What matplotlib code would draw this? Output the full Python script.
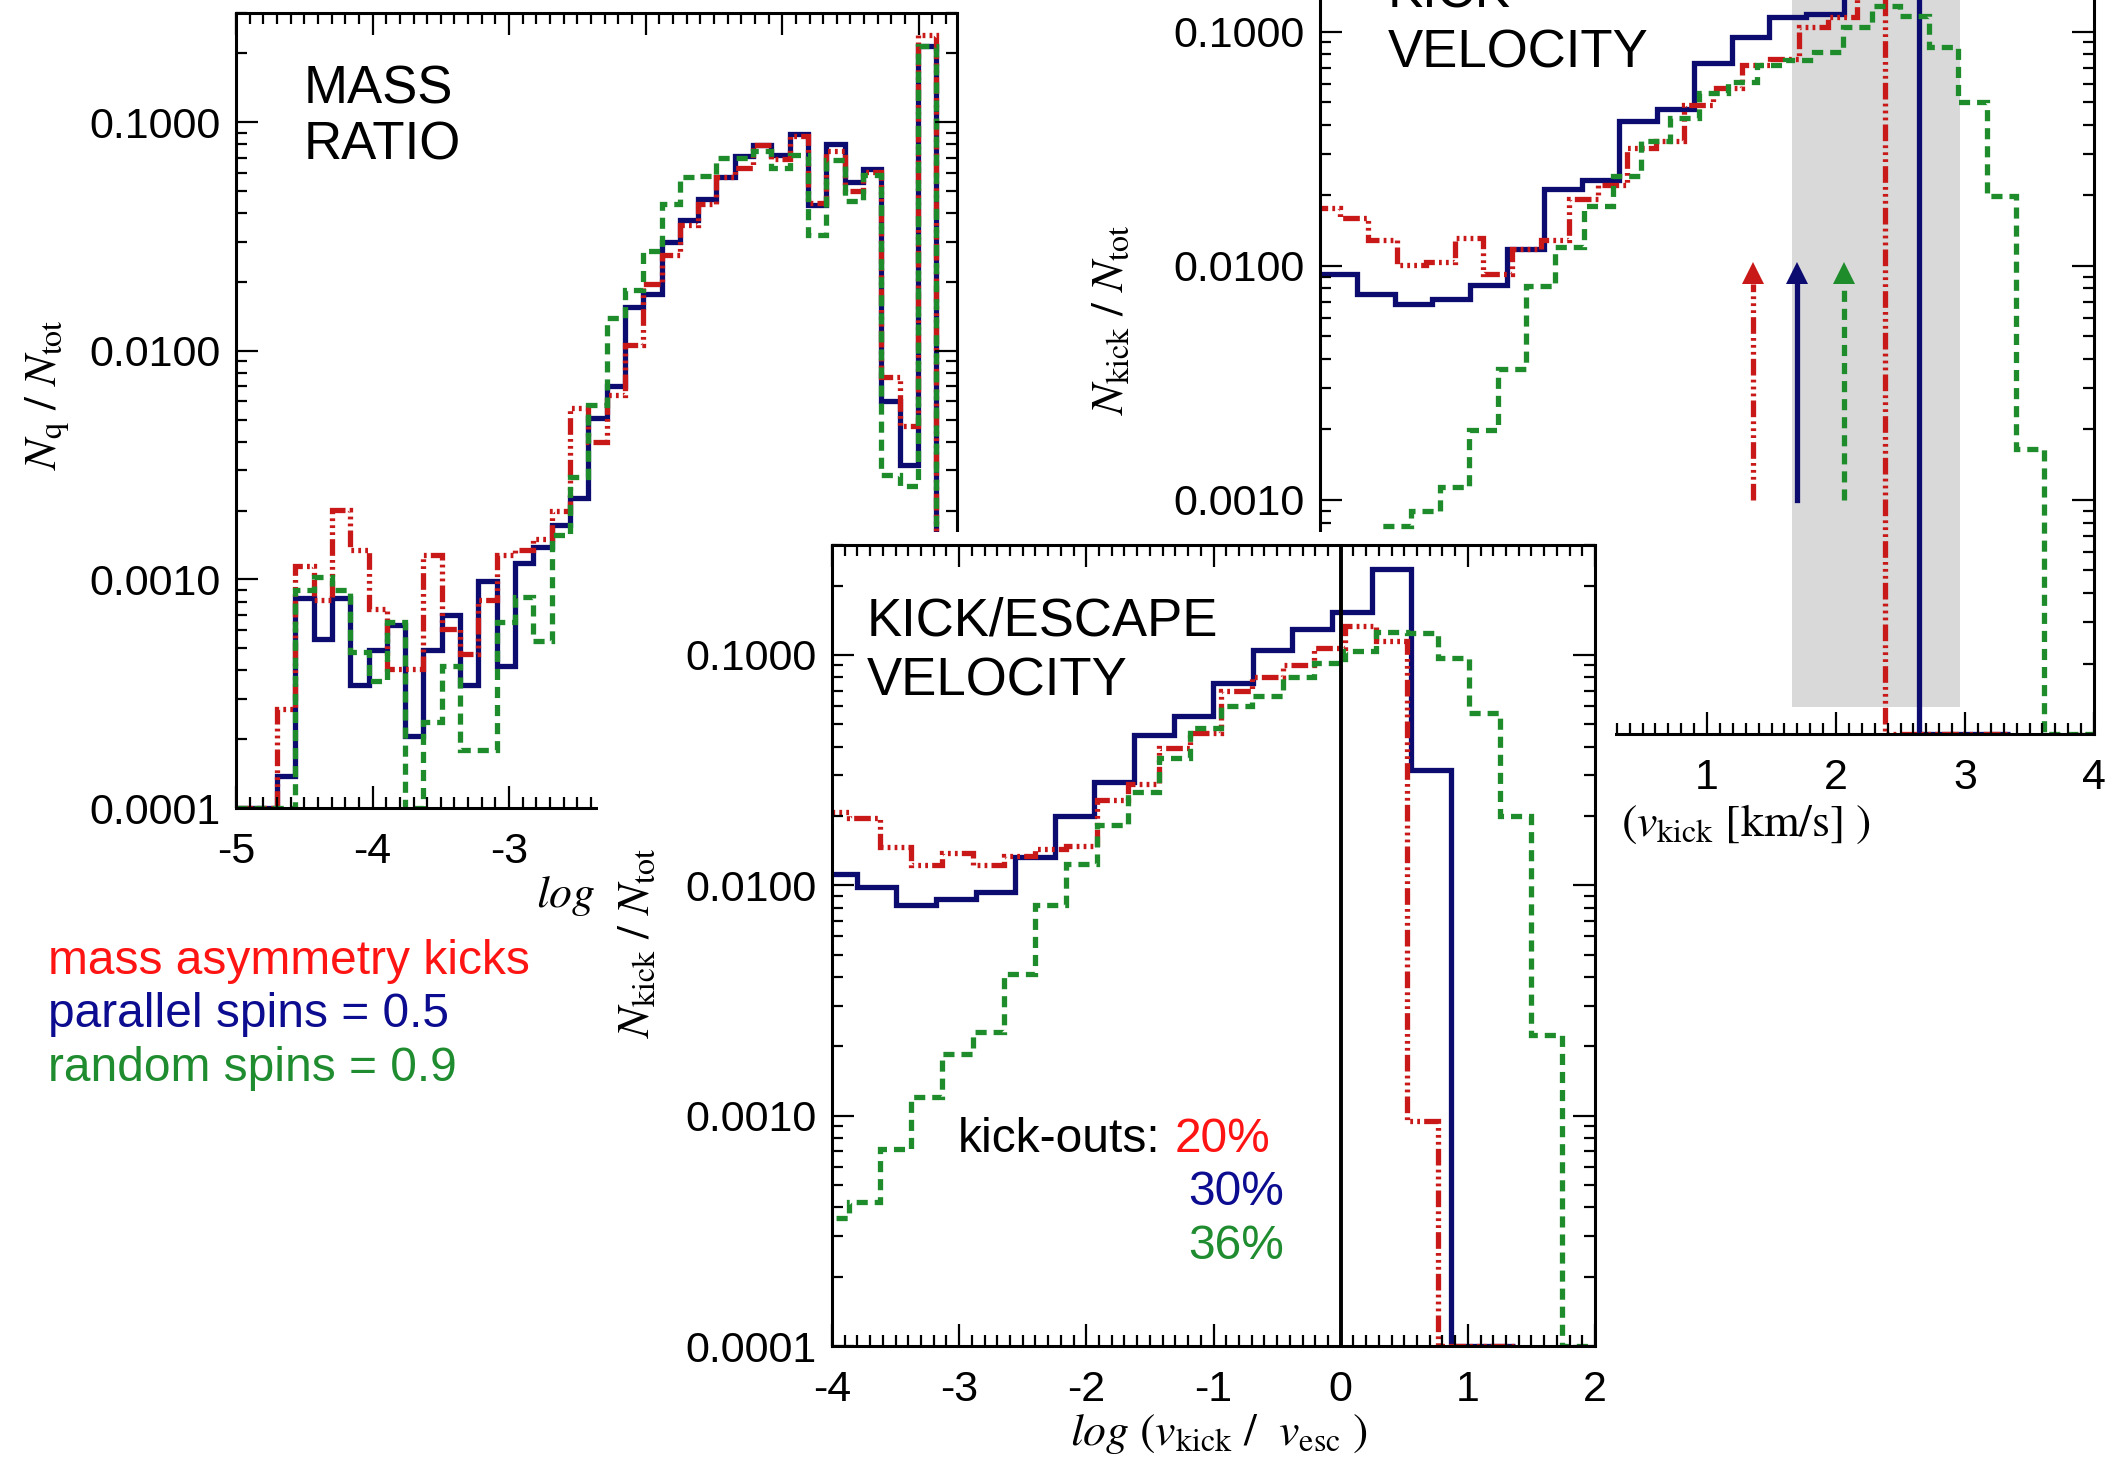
import numpy as np
import matplotlib
matplotlib.use("Agg")
import matplotlib.pyplot as plt
from matplotlib.patches import Rectangle
from matplotlib.ticker import MultipleLocator, LogLocator, FuncFormatter, NullFormatter

plt.rcParams['font.family'] = ['Liberation Sans', 'DejaVu Sans']
plt.rcParams['mathtext.fontset'] = 'stix'
plt.rcParams['axes.unicode_minus'] = False
plt.rcParams['lines.scale_dashes'] = False

W, H = 2112, 1461
FLOOR = 1e-4

# --- mass ratio panel (log q), shared bins
q_start, q_width = -4.70, 0.1341
q_red = [2.7e-4, 1.14e-3, 8.1e-4, 2.02e-3, 1.35e-3, 7.4e-4, 4.05e-4, 4.05e-4, 1.28e-3,
         6.05e-4, 4.7e-4, 8.1e-4, 1.28e-3, 1.35e-3, 1.5e-3, 2.0e-3, 5.6e-3, 4.0e-3,
         6.4e-3, 0.0106, 0.0196, 0.0263, 0.0356, 0.0437, 0.0573, 0.063, 0.0796, 0.069,
         0.0866, 0.0443, 0.0744, 0.050, 0.0604, 7.7e-3, 4.67e-3, 0.24]
q_blue = [1.38e-4, 8.3e-4, 5.5e-4, 8.3e-4, 3.46e-4, 4.9e-4, 6.3e-4, 2.07e-4, 4.9e-4,
          7.0e-4, 3.46e-4, 9.8e-4, 4.16e-4, 1.18e-3, 1.39e-3, 1.73e-3, 2.27e-3, 5.1e-3,
          7.0e-3, 0.0156, 0.0177, 0.030, 0.0374, 0.0462, 0.0578, 0.0708, 0.079, 0.072,
          0.0887, 0.0433, 0.080, 0.0547, 0.0625, 6.0e-3, 3.17e-3, 0.215]
q_green = [1e-4, 9.0e-4, 1.02e-3, 9.0e-4, 4.8e-4, 3.6e-4, 6.5e-4, 1e-4, 2.37e-4,
           4.16e-4, 1.79e-4, 1.79e-4, 6.5e-4, 8.4e-4, 5.4e-4, 1.56e-3, 2.8e-3, 5.8e-3,
           0.0139, 0.0185, 0.0272, 0.0437, 0.0573, 0.058, 0.0697, 0.070, 0.0744, 0.063,
           0.072, 0.0321, 0.0684, 0.045, 0.0585, 2.87e-3, 2.55e-3, 0.215]

# --- kick velocity panel (log v_kick [km/s])
vk_red_start, vk_red_width = -2.07, 0.2226
vk_red = [0.0176, 0.016, 0.0129, 0.0101, 0.0104, 0.0131, 0.0092, 0.0118, 0.0129, 0.0193,
          0.0221, 0.0318, 0.034, 0.0487, 0.0577, 0.0719, 0.0764, 0.105, 0.115, 0.145]
vk_blue_start, vk_blue_width = -2.0, 0.29
vk_blue = [0.00925, 0.00755, 0.00684, 0.00721, 0.00826, 0.0118, 0.0213, 0.0232, 0.0416,
           0.0467, 0.0733, 0.0946, 0.116, 0.119, 0.16, 0.17]
vk_green_start, vk_green_width = -1.516, 0.2231
vk_green = [7.7e-4, 9.0e-4, 1.14e-3, 1.98e-3, 3.64e-3, 8.17e-3, 0.0120, 0.0180, 0.0243,
            0.0342, 0.0426, 0.0545, 0.0611, 0.0723, 0.0755, 0.0816, 0.1045, 0.129, 0.117,
            0.0857, 0.0503, 0.0199, 1.65e-3]
arrow_x = [1.36, 1.70, 2.06]
band_x = [1.66, 2.96]

# --- kick / escape velocity panel
ve_start, ve_width = -4.111, 0.2439   # red and green bins
ve_red = [0.0208, 0.0195, 0.0147, 0.0122, 0.0138, 0.0122, 0.0134, 0.0144, 0.0148, 0.0234,
          0.0275, 0.0393, 0.0459, 0.070, 0.080, 0.090, 0.107, 0.134, 0.115, 9.5e-4]
ve_green = [3.6e-4, 4.2e-4, 7.2e-4, 1.2e-3, 1.85e-3, 2.3e-3, 4.1e-3, 8.2e-3, 0.0124, 0.0182,
            0.0255, 0.0356, 0.048, 0.060, 0.066, 0.080, 0.092, 0.104, 0.126, 0.125, 0.097,
            0.0557, 0.0199, 2.25e-3]
ve_blue_start, ve_blue_width = -4.1175, 0.3115
ve_blue = [0.01116, 0.00984, 0.00818, 0.00875, 0.00935, 0.0132, 0.0200, 0.0281, 0.0449,
           0.0543, 0.0753, 0.105, 0.129, 0.1535, 0.235, 0.0315]

kickouts = ['20%', '30%', '36%']
legend_labels = ['mass asymmetry kicks', 'parallel spins = 0.5', 'random spins = 0.9']

RED, BLUE, GREEN = '#c81818', '#0b0b70', '#1f8c2c'
TXT = ['#ff1414', '#0c0c90', '#1f8c30']
LS = {'red': (0, (12, 3, 2, 3, 2, 3, 2, 3)), 'blue': '-', 'green': (0, (8, 5))}
LW = 3.8

fig = plt.figure(figsize=(W / 100, H / 100), dpi=100)


def fx(x):
    return x / W


def fy(y):
    return 1 - y / H


def add_panel(l, t, r, b, z):
    ax = fig.add_axes([l / W, 1 - b / H, (r - l) / W, (b - t) / H])
    ax.set_zorder(z)
    return ax


def style(ax, xlim):
    ax.set_xlim(*xlim)
    ax.set_yscale('log')
    ax.set_ylim(1e-4, 0.3)
    ax.xaxis.set_major_locator(MultipleLocator(1))
    ax.xaxis.set_minor_locator(MultipleLocator(0.1))
    ax.yaxis.set_major_locator(LogLocator(base=10, numticks=10))
    ax.yaxis.set_minor_locator(LogLocator(base=10, subs=np.arange(2, 10), numticks=20))
    ax.yaxis.set_major_formatter(FuncFormatter(lambda v, p: f'{v:.4f}'))
    ax.yaxis.set_minor_formatter(NullFormatter())
    ax.xaxis.set_major_formatter(FuncFormatter(lambda v, p: str(int(round(v)))))
    ax.tick_params(which='both', direction='in', top=True, right=True, width=1.6, labelsize=31)
    ax.tick_params(which='major', length=16)
    ax.tick_params(which='minor', length=8)
    ax.tick_params(axis='x', pad=17)
    ax.tick_params(axis='y', pad=11)
    for s in ax.spines.values():
        s.set_linewidth(2.2)


def hist(ax, start, width, vals, key, color, right, left=None):
    edges = start + width * np.arange(len(vals) + 1)
    v = list(vals) + [FLOOR]
    e = list(edges) + [right]
    if left is not None:
        v = [FLOOR] + v
        e = [left] + e
    ax.stairs(v, e, baseline=None, color=color, lw=LW, linestyle=LS[key])


# ---------- MASS RATIO ----------
axA = add_panel(236, 13, 957, 808, 0)
style(axA, (-5, 0.28))
hist(axA, q_start, q_width, q_blue, 'blue', BLUE, 0.28, -5)
hist(axA, q_start, q_width, q_red, 'red', RED, 0.28, -5)
hist(axA, q_start, q_width, q_green, 'green', GREEN, 0.28, -5)

# ---------- KICK VELOCITY ----------
axB = add_panel(1320, -80, 2094, 734, 0)
style(axB, (-2, 4))
axB.fill_between(band_x, 1.3e-4, 1.0, color='#d9d9d9', lw=0, zorder=0.5)
hist(axB, vk_blue_start, vk_blue_width, vk_blue, 'blue', BLUE, 3.35)
hist(axB, vk_red_start, vk_red_width, vk_red, 'red', RED, 3.35)
hist(axB, vk_green_start, vk_green_width, vk_green, 'green', GREEN, 4.0, -2.0)
for x, c, k in zip(arrow_x, [RED, BLUE, GREEN], ['red', 'blue', 'green']):
    axB.plot([x, x], [1e-3, 8.4e-3], color=c, lw=LW, linestyle=LS[k])
    axB.plot([x], [9.3e-3], marker='^', ms=16, color=c, mec=c, mew=0)

# white backing of the lower panel
fig.add_artist(Rectangle((fx(598), 0), (1615 - 598) / W, fy(532), transform=fig.transFigure,
                         facecolor='white', edgecolor='none', zorder=1))

# ---------- KICK/ESCAPE VELOCITY ----------
axC = add_panel(832, 545, 1595, 1346, 2)
style(axC, (-4, 2))
hist(axC, ve_blue_start, ve_blue_width, ve_blue, 'blue', BLUE, 1.37)
hist(axC, ve_start, ve_width, ve_red, 'red', RED, 1.37)
hist(axC, ve_start, ve_width, ve_green, 'green', GREEN, 2.0)
axC.axvline(0, color='black', lw=2.8, zorder=3)

# ---------- labels ----------
lab = 33
fig.text(fx(47), fy(395), r'$N_{\rm q}\ /\ N_{\rm tot}$', rotation=90, ha='center', va='center',
         fontsize=lab, zorder=0.5)
fig.text(fx(536), fy(896), r'$log$', ha='left', va='center', fontsize=lab, zorder=0.5)
fig.text(fx(1111), fy(320), r'$N_{\rm kick}\ /\ N_{\rm tot}$', rotation=90, ha='center',
         va='center', fontsize=lab, zorder=0.5)
fig.text(fx(1621), fy(824), r'$(v_{\rm kick}\ [{\rm km/s}]\ )$', ha='left', va='center',
         fontsize=lab, zorder=0.5)
fig.text(fx(637), fy(943), r'$N_{\rm kick}\ /\ N_{\rm tot}$', rotation=90, ha='center',
         va='center', fontsize=lab, zorder=2.5)
fig.text(fx(1219), fy(1434), r'$log\ (v_{\rm kick}\ /\ \ v_{\rm esc}\ )$', ha='center',
         va='center', fontsize=lab, zorder=2.5)

ttl = 38
for s, x, y, z in [('MASS', 304, 103, 0.5), ('RATIO', 304, 159, 0.5),
                   ('KICK', 1388, 8, 0.5), ('VELOCITY', 1388, 68, 0.5),
                   ('KICK/ESCAPE', 867, 636, 2.5), ('VELOCITY', 867, 696, 2.5)]:
    fig.text(fx(x), fy(y), s, ha='left', va='baseline', fontsize=ttl, zorder=z)

fig.text(fx(958), fy(1152), 'kick-outs:', ha='left', va='baseline', fontsize=34.5, zorder=2.5)
for s, x, y, c in zip(kickouts, [1175, 1188, 1188], [1152, 1205, 1259], TXT):
    fig.text(fx(x), fy(y), s, ha='left', va='baseline', fontsize=34.5, color=c, zorder=2.5)

for s, y, c in zip(legend_labels, [974, 1027, 1081], TXT):
    fig.text(fx(48), fy(y), s, ha='left', va='baseline', fontsize=34.5, color=c, zorder=3)

fig.savefig('out.png', dpi=100)
